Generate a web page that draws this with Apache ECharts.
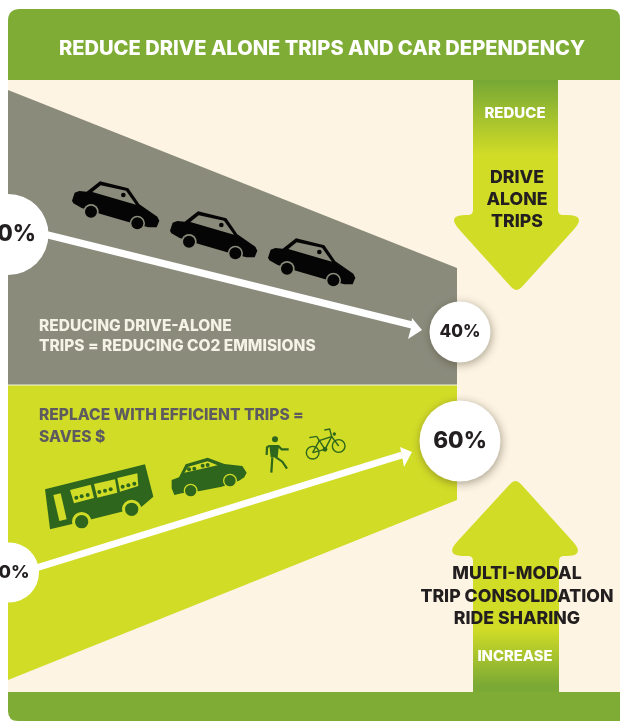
<!DOCTYPE html>
<html><head><meta charset="utf-8">
<script src="https://cdn.jsdelivr.net/npm/echarts@6/dist/echarts.min.js"></script>
<style>html,body{margin:0;padding:0;background:#fff}#c{width:620px;height:721px}</style></head>
<body><div id="c"></div>
<script>
// ---- values (axis units) ----
const headerBand = [[8,9],[620,9],[620,80],[8,80]];
const footerBand = [[8,692],[620,692],[620,721],[8,721]];
const creamBand  = [[8,80],[620,80],[620,692],[8,692]];
const driveAloneBand = [[8,90],[457,268],[457,385],[8,385]];
const efficientBand  = [[8,385],[457,385],[457,500],[8,680]];
const driveAloneTrend = [[44,234],[412,325]];
const efficientTrend  = [[36,568],[402,455]];
const driveAloneHead = [[412,318],[422,330],[408,339],[411,328]];
const efficientHead  = [[400,447],[412,452],[404,467],[402,456]];
const reduceArrow = [[473,80],[558,80],[558,215],[587,215],[516.5,293],[446,215],[473,215]];
const increaseArrow = [[473,692],[559,692],[559,556],[586,556],[515.5,478],[444,556],[473,556]];
const percentLabels = ['0%','40%','0%','60%'];
const circleX = [8,460,9,460];
const circleY = [234.5,332,572.5,441];
const circleSize = [81,61,60,81];
const labelX = [16.5,460,14,460];
const titleText = 'REDUCE DRIVE ALONE TRIPS AND CAR DEPENDENCY';
const reduceTexts = ['DRIVE','ALONE','TRIPS'];
const increaseTexts = ['MULTI-MODAL','TRIP CONSOLIDATION','RIDE SHARING'];
const grayTexts = ['REDUCING DRIVE-ALONE','TRIPS = REDUCING CO2 EMMISIONS'];
const limeTexts = ['REPLACE WITH EFFICIENT TRIPS =','SAVES $'];

// ---- colours ----
const GREEN='#7FAC35', CREAM='#FEF4E3', GRAY='#8A8B7B', LIME='#D1DC26', DARK='#231F20', ICON='#2D661C';
const FONT='Inter';

// ---- icon outlines (local units, 3 = 1 axis unit) ----
const carBody=[[120,34],[205,55],[238,103],[292,140],[298,152],[290,172],[265,172],[205,156],[125,133],[65,114],[40,100],[36,92],[44,68],[58,63],[80,65]];
const carWindow=[[97,66],[122,46],[198,62],[228,104]];
const carOrigins=[[60,170],[158,200],[256,227]];
const gCarBody=[[20,180],[42,172],[62,133],[128,113],[178,132],[232,138],[245,158],[238,172],[222,182],[170,200],[105,213],[50,220],[28,225],[20,205]];
const gCarWindow=[[58,158],[70,140],[128,124],[158,136]];
const busBody=[[15,208],[315,133],[340,230],[305,260],[125,305],[30,328]];
const busWindows=[[[90,210],[152,194],[162,234],[102,250]],[[162,192],[225,178],[232,218],[172,233]],[[232,174],[292,160],[295,198],[240,215]]];
const busDoor=[[40,225],[62,220],[80,298],[58,303]];
const busDots=[[109,233],[125,229],[143,225],[178,216],[195,212],[212,208],[248,200],[265,196],[283,191]];
const walkerTorso=[[313,75],[342,75],[338,112],[317,112]];
const walkerLimbs=[[[314,77],[306,82],[305,105]],[[340,78],[350,88],[371,88]],[[322,112],[319,158]],[[330,110],[352,125],[366,146]]];
const bikeLines=[[[443,98],[480,88],[463,62],[500,50],[521,78]],[[480,88],[500,50],[494,27],[478,30]],[[463,62],[443,98]],[[433,53],[455,49]],[[463,62],[455,49]]];

function pathOf(pts,cut,toPx){
  const n=pts.length, P=pts.map(toPx); let d='';
  for(let i=0;i<n;i++){
    const p=P[i],a=P[(i+n-1)%n],b=P[(i+1)%n],c=(cut&&cut[i])||0;
    if(!c){d+=(i?'L':'M')+p[0]+' '+p[1];continue;}
    const la=Math.hypot(a[0]-p[0],a[1]-p[1]),lb=Math.hypot(b[0]-p[0],b[1]-p[1]);
    const s=[p[0]+(a[0]-p[0])*c/la,p[1]+(a[1]-p[1])*c/la],e=[p[0]+(b[0]-p[0])*c/lb,p[1]+(b[1]-p[1])*c/lb];
    d+=(i?'L':'M')+s[0]+' '+s[1]+'Q'+p[0]+' '+p[1]+' '+e[0]+' '+e[1];
  }
  return d+'Z';
}
function layer(z,build){return {type:'custom',coordinateSystem:'cartesian2d',z:z,silent:true,clip:false,data:[[0,0]],
  renderItem:(p,api)=>({type:'group',children:build(api)})};}
const shape=(api,pts,fill,cut)=>({type:'path',shape:{pathData:pathOf(pts,cut,q=>api.coord(q))},style:{fill:fill}});
function icon(api,o){ return q=>[o[0]+q[0]/3,o[1]+q[1]/3]; }
const ipoly=(api,o,pts,fill)=>shape(api,pts.map(icon(api,o)),fill);
function disc(api,o,c,r,fill){const q=api.coord(icon(api,o)(c));return {type:'circle',shape:{cx:q[0],cy:q[1],r:r/3},style:{fill:fill}};}
function label(api,t,x,y,size,fill,align,weight){const q=api.coord([x,y]);
  return {type:'text',style:{text:t,x:q[0],y:q[1],fill:fill,fontFamily:FONT,fontWeight:weight||800,fontSize:size,align:align||'center',verticalAlign:'middle'}};}
const vGrad=(stops)=>new echarts.graphic.LinearGradient(0,0,0,1,stops.map(s=>({offset:s[0],color:s[1]})));

function blackCar(api,o){return [ipoly(api,o,carBody,'#050505'),ipoly(api,o,carWindow,GRAY),disc(api,o,[190,75],7,'#050505'),
  disc(api,o,[93,125],23,GRAY),disc(api,o,[93,125],18,'#050505'),disc(api,o,[232,160],23,GRAY),disc(api,o,[232,160],18,'#050505')];}

const option={
  animation:false,
  backgroundColor:'#fff',
  grid:{left:0,right:0,top:0,bottom:0},
  xAxis:{type:'value',min:0,max:620,show:false},
  yAxis:{type:'value',min:0,max:721,inverse:true,show:false},
  series:[
    layer(1,api=>[shape(api,creamBand,CREAM)]),
    layer(2,api=>[shape(api,driveAloneBand,GRAY),shape(api,efficientBand,LIME),
      {type:'line',shape:{x1:api.coord([8,385])[0],y1:api.coord([8,385])[1],x2:api.coord([457,385])[0],y2:api.coord([457,385])[1]},style:{stroke:'#F3F2DF',lineWidth:1}}]),
    layer(3,api=>[
      shape(api,reduceArrow,vGrad([[0,'#76A735'],[0.36,LIME],[1,LIME]]),[0,0,5,20,8,20,5]),
      shape(api,increaseArrow,vGrad([[0,LIME],[0.70,LIME],[0.97,'#7BA935'],[1,'#7BA935']]),[0,0,5,20,8,20,5])
    ]),
    layer(4,api=>[shape(api,headerBand,GREEN,[12,10,0,0]),shape(api,footerBand,GREEN,[0,0,0,10])]),
    {type:'line',z:5,silent:true,showSymbol:false,symbol:'none',lineStyle:{color:'#fff',width:7},data:driveAloneTrend},
    {type:'line',z:5,silent:true,showSymbol:false,symbol:'none',lineStyle:{color:'#fff',width:7},data:efficientTrend},
    layer(6,api=>[shape(api,driveAloneHead,'#fff'),shape(api,efficientHead,'#fff')]),
    layer(7,api=>{
      const out=[]; carOrigins.forEach(o=>out.push(...blackCar(api,o)));
      const b=[40,420];
      out.push(ipoly(api,b,busBody,ICON));
      busWindows.forEach(w=>out.push(ipoly(api,b,w,LIME)));
      out.push(ipoly(api,b,busDoor,LIME));
      busDots.forEach(d=>out.push(disc(api,b,d,6,ICON)));
      out.push(disc(api,b,[275,268],29,LIME),disc(api,b,[275,268],20,ICON),disc(api,b,[125,305],29,LIME),disc(api,b,[125,305],20,ICON));
      const c=[165,420];
      out.push(ipoly(api,c,gCarBody,ICON),ipoly(api,c,gCarWindow,LIME));
      [[72,148],[88,146],[113,137],[128,135]].forEach(d=>out.push(disc(api,c,d,6,ICON)));
      out.push(disc(api,c,[195,182],21,LIME),disc(api,c,[195,182],17,ICON),disc(api,c,[77,212],21,LIME),disc(api,c,[77,212],17,ICON));
      out.push(ipoly(api,c,walkerTorso,ICON),disc(api,c,[330,58],9,ICON));
      walkerLimbs.forEach(l=>{const pts=l.map(q=>api.coord(icon(api,c)(q)));out.push({type:'polyline',shape:{points:pts},style:{fill:'none',stroke:ICON,lineWidth:2.2}});});
      [[443,98],[521,78]].forEach(w=>{const q=api.coord(icon(api,c)(w));out.push({type:'circle',shape:{cx:q[0],cy:q[1],r:19/3},style:{fill:'none',stroke:ICON,lineWidth:1.4}});});
      bikeLines.forEach(l=>{const pts=l.map(q=>api.coord(icon(api,c)(q)));out.push({type:'polyline',shape:{points:pts},style:{fill:'none',stroke:ICON,lineWidth:1.4}});});
      out.push(disc(api,c,[480,88],7,ICON),disc(api,c,[508,42],5,ICON));
      return out;
    }),
    layer(8,api=>{
      const out=[label(api,titleText,322,48.5,20.1,'#fff'),label(api,'REDUCE',515,113.5,15,'#fff'),label(api,'INCREASE',515,656.5,14.8,'#fff')];
      reduceTexts.forEach((t,i)=>out.push(label(api,t,517,178+i*22,17.7,DARK)));
      increaseTexts.forEach((t,i)=>out.push(label(api,t,517,574+i*22.5,17.7,DARK)));
      grayTexts.forEach((t,i)=>out.push(label(api,t,39,326.5+i*19.5,15.5,'#F5F3E5','left')));
      limeTexts.forEach((t,i)=>out.push(label(api,t,39,415+i*22,15.6,'#5D5B5F','left')));
      return out;
    }),
    {type:'scatter',z:9,silent:true,clip:false,
      data:percentLabels.map((t,i)=>({value:[circleX[i],circleY[i]],symbolSize:circleSize[i],
        itemStyle:{color:'#fff',opacity:1,shadowBlur:i%2?10:0,shadowColor:'rgba(60,50,30,0.45)',shadowOffsetX:i%2?1:0,shadowOffsetY:i%2?2:0}})),
    },
    layer(10,api=>percentLabels.map((t,i)=>label(api,t,labelX[i],circleY[i],[22.5,17,18,22.5][i],DARK)))
  ]
};
echarts.init(document.getElementById('c'),null,{renderer:'canvas'}).setOption(option);
</script></body></html>
